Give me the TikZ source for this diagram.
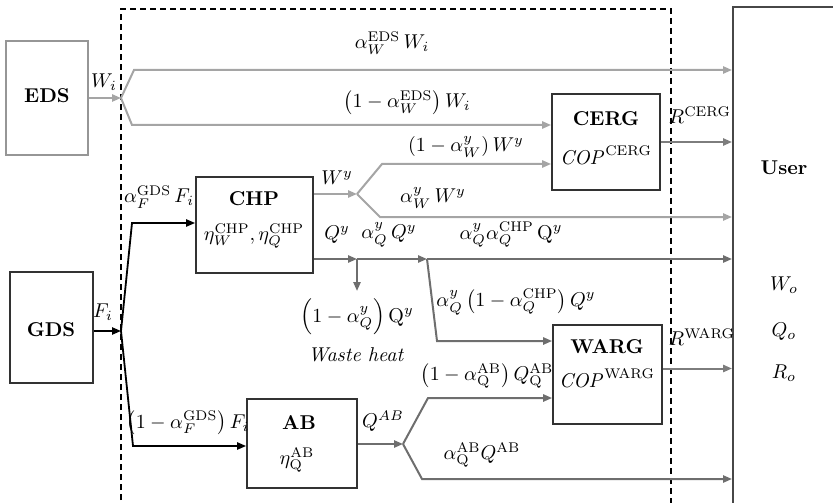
\documentclass[tikz,border=0pt]{standalone}
\usepackage{amsmath}
\usepackage{tikz}
\usetikzlibrary{arrows.meta, positioning}
\definecolor{boxline}{RGB}{50,50,50}
\definecolor{edsline}{RGB}{150,150,150}
\definecolor{wgray}{RGB}{165,165,165}
\definecolor{qgray}{RGB}{110,110,110}
\definecolor{rgray}{RGB}{125,125,125}

\begin{document}
\begin{tikzpicture}[
        x=0.5pt, y=-0.5pt,
        box/.style = {draw=boxline, rectangle, line width=0.9pt, inner sep=0pt},
        title/.style = {font=\bfseries, inner sep=1pt},
        wflow/.style = {draw=wgray, line width=1pt, -{Triangle[length=4.5pt, width=3.6pt]}},
        qflow/.style = {draw=qgray, line width=1pt, -{Triangle[length=4.5pt, width=3.6pt]}},
        rflow/.style = {draw=rgray, line width=1pt, -{Triangle[length=4.5pt, width=3.6pt]}},
        fflow/.style = {draw=black, line width=0.9pt, -{Triangle[length=4.5pt, width=3.6pt]}},
        lbl/.style = {inner sep=1pt}
    ]
        \useasboundingbox (0,0) rectangle (833,502);
        \clip (0,0) rectangle (833,502);

        % system boundary
        \draw[line width=0.7pt, dash pattern=on 3pt off 2pt] (121,510) |- (671,9) -- (671,510);

        \node (eds) [box, draw=edsline, minimum width=41pt, minimum height=57pt] at (47,98) {};
        \node (gds) [box, minimum width=41.5pt, minimum height=55.5pt] at (51.5,327.5) {};
        \node (chp) [box, minimum width=58.5pt, minimum height=48pt] at (254.5,225) {};
        \node (cerg) [box, minimum width=54pt, minimum height=48pt] at (606,142) {};
        \node (warg) [box, minimum width=54.5pt, minimum height=49.5pt] at (607.5,374.5) {};
        \node (ab) [box, minimum width=55pt, minimum height=44.5pt] at (302,443.5) {};
        \node (user) [box, draw=boxline!90, anchor=north west, minimum width=100pt, minimum height=300pt] at (732,6) {};

        \node (edstxt) [title] at (47,96) {EDS};
        \node (gdstxt) [title] at (51,330) {GDS};
        \node (chptxt) [title] at (254,199) {CHP};
        \node (chppar) [lbl] at (254,236) {$\eta_W^{\mathrm{CHP}},\eta_Q^{\mathrm{CHP}}$};
        \node (ergtxt) [title] at (606,119) {CERG};
        \node (ergpar) [lbl] at (606,155) {$\mathit{COP}^{\mathrm{CERG}}$};
        \node (wargtxt) [title] at (607,347) {WARG};
        \node (wargpar) [lbl] at (607,378) {$\mathit{COP}^{\mathrm{WARG}}$};
        \node (abtxt) [title] at (299,423) {AB};
        \node (abpar) [lbl] at (297,460) {$\eta_{\mathrm{Q}}^{\mathrm{AB}}$};

        \node (usertxt) [title] at (784,168) {User};
        \node (wo) at (784,285) {$W_o$};
        \node (qo) at (784,332) {$Q_o$};
        \node (ro) at (784,373) {$R_o$};

        % electricity from the grid
        \coordinate (wsplit) at (121,98);
        \coordinate (wup) at (134,70);
        \coordinate (wdn) at (132,125);
        \draw[wflow] (eds.east |- wsplit) -- (wsplit);
        \draw[wflow] (wsplit) -- (wup) -- (wup -| user.west);
        \draw[wflow] (wsplit) -- (wdn) -- (wdn -| cerg.west);
        \node (wi) [lbl] at (104,82) {$W_i$};
        \node (lwup) [lbl] at (392,43) {$\alpha_W^{\mathrm{EDS}}\,W_i$};
        \node (lwdn) [lbl] at (407,103) {$\left(1-\alpha_W^{\mathrm{EDS}}\right)W_i$};

        % gas
        \coordinate (gsplit) at (121,331);
        \coordinate (g1) at (132,223);
        \coordinate (g2) at (133,446);
        \draw[fflow] (gds.east |- gsplit) -- (gsplit);
        \draw[fflow] (gsplit) -- (g1) -- (g1 -| chp.west);
        \draw[fflow] (gsplit) -- (g2) -- (g2 -| ab.west);
        \node (fi) [lbl] at (103,312) {$F_i$};
        \node (lg1) [lbl] at (159,197) {$\alpha_F^{\mathrm{GDS}}\,F_i$};
        \node (lg2) [lbl] at (188,423) {$\left(1-\alpha_F^{\mathrm{GDS}}\right)F_i$};

        % CHP power
        \coordinate (wysplit) at (357,194);
        \coordinate (wyup) at (382,164);
        \coordinate (wydn) at (380,217);
        \draw[wflow] (chp.east |- wysplit) -- (wysplit);
        \draw[wflow] (wysplit) -- (wyup) -- (wyup -| cerg.west);
        \draw[wflow] (wysplit) -- (wydn) -- (wydn -| user.west);
        \node (lwy) [lbl] at (337,178) {$W^y$};
        \node (lwyup) [lbl] at (466,147) {$\left(1-\alpha_W^{y}\right)W^{y}$};
        \node (lwydn) [lbl] at (433,198) {$\alpha_W^{y}\,W^{y}$};

        % CHP heat
        \coordinate (qsplit) at (357,259);
        \coordinate (qsplit2) at (427,259);
        \coordinate (waste) at (357,291);
        \coordinate (qdn) at (437,341);
        \draw[qflow] (chp.east |- qsplit) -- (qsplit);
        \draw[qflow] (qsplit) -- (qsplit2);
        \draw[qflow] (qsplit) -- (waste);
        \draw[qflow] (qsplit2) -- (qsplit2 -| user.west);
        \draw[qflow] (qsplit2) -- (qdn) -- (qdn -| warg.west);
        \node (lqy) [lbl] at (337,235) {$Q^y$};
        \node (lqy2) [lbl] at (389,235) {$\alpha_Q^{y}\,Q^{y}$};
        \node (lquser) [lbl] at (511,235) {$\alpha_Q^{y}\alpha_Q^{\mathrm{CHP}}\,\mathrm{Q}^{y}$};
        \node (lqwarg) [lbl] at (516,302) {$\alpha_Q^{y}\left(1-\alpha_Q^{\mathrm{CHP}}\right)Q^{y}$};
        \node (lwaste) [lbl] at (357,317) {$\left(1-\alpha_Q^{y}\right)\mathrm{Q}^{y}$};
        \node (wastetxt) [lbl] at (356,355) {\textit{Waste heat}};

        % boiler heat
        \coordinate (absplit) at (403,444);
        \coordinate (abup) at (428,398);
        \coordinate (abdn) at (422,479);
        \draw[qflow] (ab.east |- absplit) -- (absplit);
        \draw[qflow] (absplit) -- (abup) -- (abup -| warg.west);
        \draw[qflow] (absplit) -- (abdn) -- (abdn -| user.west);
        \node (lqab) [lbl] at (383,421) {$Q^{AB}$};
        \node (labup) [lbl] at (487,376) {$\left(1-\alpha_{\mathrm{Q}}^{\mathrm{AB}}\right)Q_{\mathrm{Q}}^{\mathrm{AB}}$};
        \node (labdn) [lbl] at (482,455) {$\alpha_{\mathrm{Q}}^{\mathrm{AB}}Q^{\mathrm{AB}}$};

        % cooling to the user
        \draw[rflow] (cerg.east) -- (cerg.east -| user.west);
        \draw[rflow] ([yshift=3pt]warg.east) -- ([yshift=3pt]warg.east -| user.west);
        \node (rcerg) [lbl] at (700,115) {$R^{\mathrm{CERG}}$};
        \node (rwarg) [lbl] at (702,337) {$R^{\mathrm{WARG}}$};

    \end{tikzpicture}
\end{document}
